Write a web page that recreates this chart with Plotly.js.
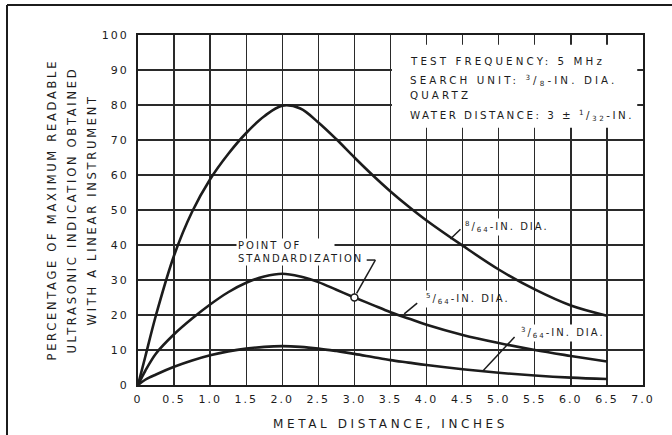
<!DOCTYPE html>
<html>
<head>
<meta charset="utf-8">
<script src="https://cdn.plot.ly/plotly-3.0.1.min.js"></script>
<style>
  html, body { margin: 0; padding: 0; background: #fff; }
  #chart { width: 672px; height: 435px; }
  .main-svg text { letter-spacing: 2px; }
  g.ytick text, g.xtick text { letter-spacing: 2px; }
  text.xtitle { letter-spacing: 3.6px; }
  g.annotation[data-index="0"] text,
  g.annotation[data-index="1"] text,
  g.annotation[data-index="2"] text { letter-spacing: 2.7px; }
  g.annotation[data-index="3"] text,
  g.annotation[data-index="4"] text,
  g.annotation[data-index="5"] text { letter-spacing: 3.1px; }
  g.annotation[data-index="6"] text { letter-spacing: 2.5px; }
</style>
</head>
<body>
<div id="chart"></div>
<script>
// ---- data ----
const metalDistance = [0, 0.1, 0.25, 0.5, 0.75, 1.0, 1.25, 1.5, 1.75, 2.0, 2.25, 2.5, 2.75, 3.0, 3.25, 3.5, 3.75, 4.0, 4.5, 5.0, 5.5, 6.0, 6.5];
const dia8_64 = [0, 8, 20, 37, 49.5, 58.8, 66, 72, 76.8, 79.8, 79, 75, 70.2, 65, 60, 55.3, 51, 47, 39.8, 33, 27.3, 22.7, 19.8];
const dia5_64 = [0, 4, 9, 14.5, 19, 23, 26.5, 29.2, 31, 31.8, 31, 29.4, 27.2, 25, 22.9, 20.8, 19, 17.2, 14.3, 12, 10, 8.3, 6.7];
const dia3_64 = [0, 1.5, 3, 5.2, 7, 8.5, 9.6, 10.4, 10.9, 11.1, 10.9, 10.4, 9.7, 8.9, 8, 7.1, 6.4, 5.7, 4.5, 3.5, 2.7, 2.1, 1.7];
const standardX = [3.0];
const standardY = [25];

const xTickVals = [0, 0.5, 1.0, 1.5, 2.0, 2.5, 3.0, 3.5, 4.0, 4.5, 5.0, 5.5, 6.0, 6.5, 7.0];
const xTickText = ["0", "0.5", "1.0", "1.5", "2.0", "2.5", "3.0", "3.5", "4.0", "4.5", "5.0", "5.5", "6.0", "6.5", "7.0"];
const yTickVals = [0, 10, 20, 30, 40, 50, 60, 70, 80, 90, 100];

const ink = "#1c1c1c";
const FONT = "DejaVu Sans, sans-serif";

function curve(y, name) {
  return {
    x: metalDistance, y: y, name: name, type: "scatter", mode: "lines",
    line: { color: ink, width: 2.6, shape: "spline", smoothing: 1 },
    hoverinfo: "skip"
  };
}

const traces = [
  curve(dia8_64, "8/64-in. dia."),
  curve(dia5_64, "5/64-in. dia."),
  curve(dia3_64, "3/64-in. dia."),
  {
    x: standardX, y: standardY, type: "scatter", mode: "markers", name: "Point of standardization",
    marker: { size: 7, color: "#fff", line: { color: ink, width: 1.5 } }, hoverinfo: "skip"
  }
];

const noteFont = { family: FONT, size: 10, color: ink };
const boxFont = { family: FONT, size: 10.3, color: ink };
const ytFont = { family: FONT, size: 11.5, color: ink };

function ytitle(text, px) {
  return { xref: "paper", yref: "paper", x: (px - 138) / 505, y: 0.5, text: text, textangle: -90,
           showarrow: false, font: ytFont, xanchor: "center", yanchor: "middle" };
}
function note(text, x, y, bg, f) {
  return { xref: "x", yref: "y", x: x, y: y, text: text, showarrow: false, font: f || noteFont,
           xanchor: "left", yanchor: "middle", align: "left", bgcolor: bg ? "#fff" : "rgba(0,0,0,0)", borderpad: 1 };
}
function leader(x0, y0, x1, y1) {
  return { type: "line", xref: "x", yref: "y", x0: x0, y0: y0, x1: x1, y1: y1,
           line: { color: ink, width: 1.5 }, layer: "above" };
}

const annotations = [
  ytitle("PERCENTAGE OF MAXIMUM READABLE", 52),
  ytitle("ULTRASONIC INDICATION OBTAINED", 72),
  ytitle("WITH A LINEAR INSTRUMENT", 92),
  note("TEST FREQUENCY: 5 MHz", 3.74, 92.6, false, boxFont),
  note("SEARCH UNIT: <sup>3</sup>/<sub>8</sub>-IN. DIA.", 3.74, 87.1, false, boxFont),
  note("QUARTZ", 3.74, 82.9, false, boxFont),
  note("WATER DISTANCE: 3 ± <sup>1</sup>/<sub>32</sub>-IN.", 3.74, 77.1, false, boxFont),
  note("POINT OF<br>STANDARDIZATION", 1.36, 38, true),
  note("<sup>8</sup>/<sub>64</sub>-IN. DIA.", 4.5, 45.1, true),
  note("<sup>5</sup>/<sub>64</sub>-IN. DIA.", 3.97, 24.6, true),
  note("<sup>3</sup>/<sub>64</sub>-IN. DIA.", 5.28, 14.9, true)
];

const shapes = [
  // white panel behind the test-condition notes
  { type: "rect", xref: "x", yref: "y", x0: 3.52, x1: 6.92, y0: 73.5, y1: 97.2,
    fillcolor: "#fff", line: { width: 0 }, layer: "between" },
  // leader lines
  leader(3.03, 26.2, 3.29, 35.7),
  leader(3.29, 35.7, 3.17, 35.7),
  leader(4.33, 41.7, 4.47, 44.5),
  leader(3.69, 20.3, 3.87, 23.4),
  leader(4.78, 4.0, 5.22, 13.7),
  // outer figure frame (left and top edges)
  { type: "line", xref: "paper", yref: "paper", x0: (7 - 138) / 505, x1: (7 - 138) / 505, y0: -0.3, y1: (385 - 5) / 350,
    line: { color: ink, width: 2 } },
  { type: "line", xref: "paper", yref: "paper", x0: (7 - 138) / 505, x1: 1.2, y0: (385 - 5) / 350, y1: (385 - 5) / 350,
    line: { color: ink, width: 2 } }
];

const layout = {
  width: 672, height: 435,
  margin: { l: 138, r: 29, t: 35, b: 50, pad: 0 },
  paper_bgcolor: "#fff", plot_bgcolor: "#fff",
  showlegend: false,
  font: { family: FONT, color: ink, size: 11 },
  xaxis: {
    range: [0, 7], tickmode: "array", tickvals: xTickVals, ticktext: xTickText,
    showgrid: true, gridcolor: "#2a2a2a", gridwidth: 1.3, zeroline: false,
    showline: true, linecolor: ink, linewidth: 2, mirror: true,
    ticks: "", ticklabelstandoff: 3,
    tickfont: { family: FONT, size: 11, color: ink },
    title: { text: "METAL DISTANCE, INCHES", font: { family: FONT, size: 12, color: ink }, standoff: 14 },
    fixedrange: true
  },
  yaxis: {
    range: [0, 100], tickmode: "array", tickvals: yTickVals,
    showgrid: true, gridcolor: "#2a2a2a", gridwidth: 1.3, zeroline: false,
    showline: true, linecolor: ink, linewidth: 2, mirror: true,
    ticks: "", ticklabelstandoff: 5,
    tickfont: { family: FONT, size: 11, color: ink },
    fixedrange: true
  },
  annotations: annotations,
  shapes: shapes
};

Plotly.newPlot("chart", traces, layout, { staticPlot: true, displayModeBar: false });
</script>
</body>
</html>
